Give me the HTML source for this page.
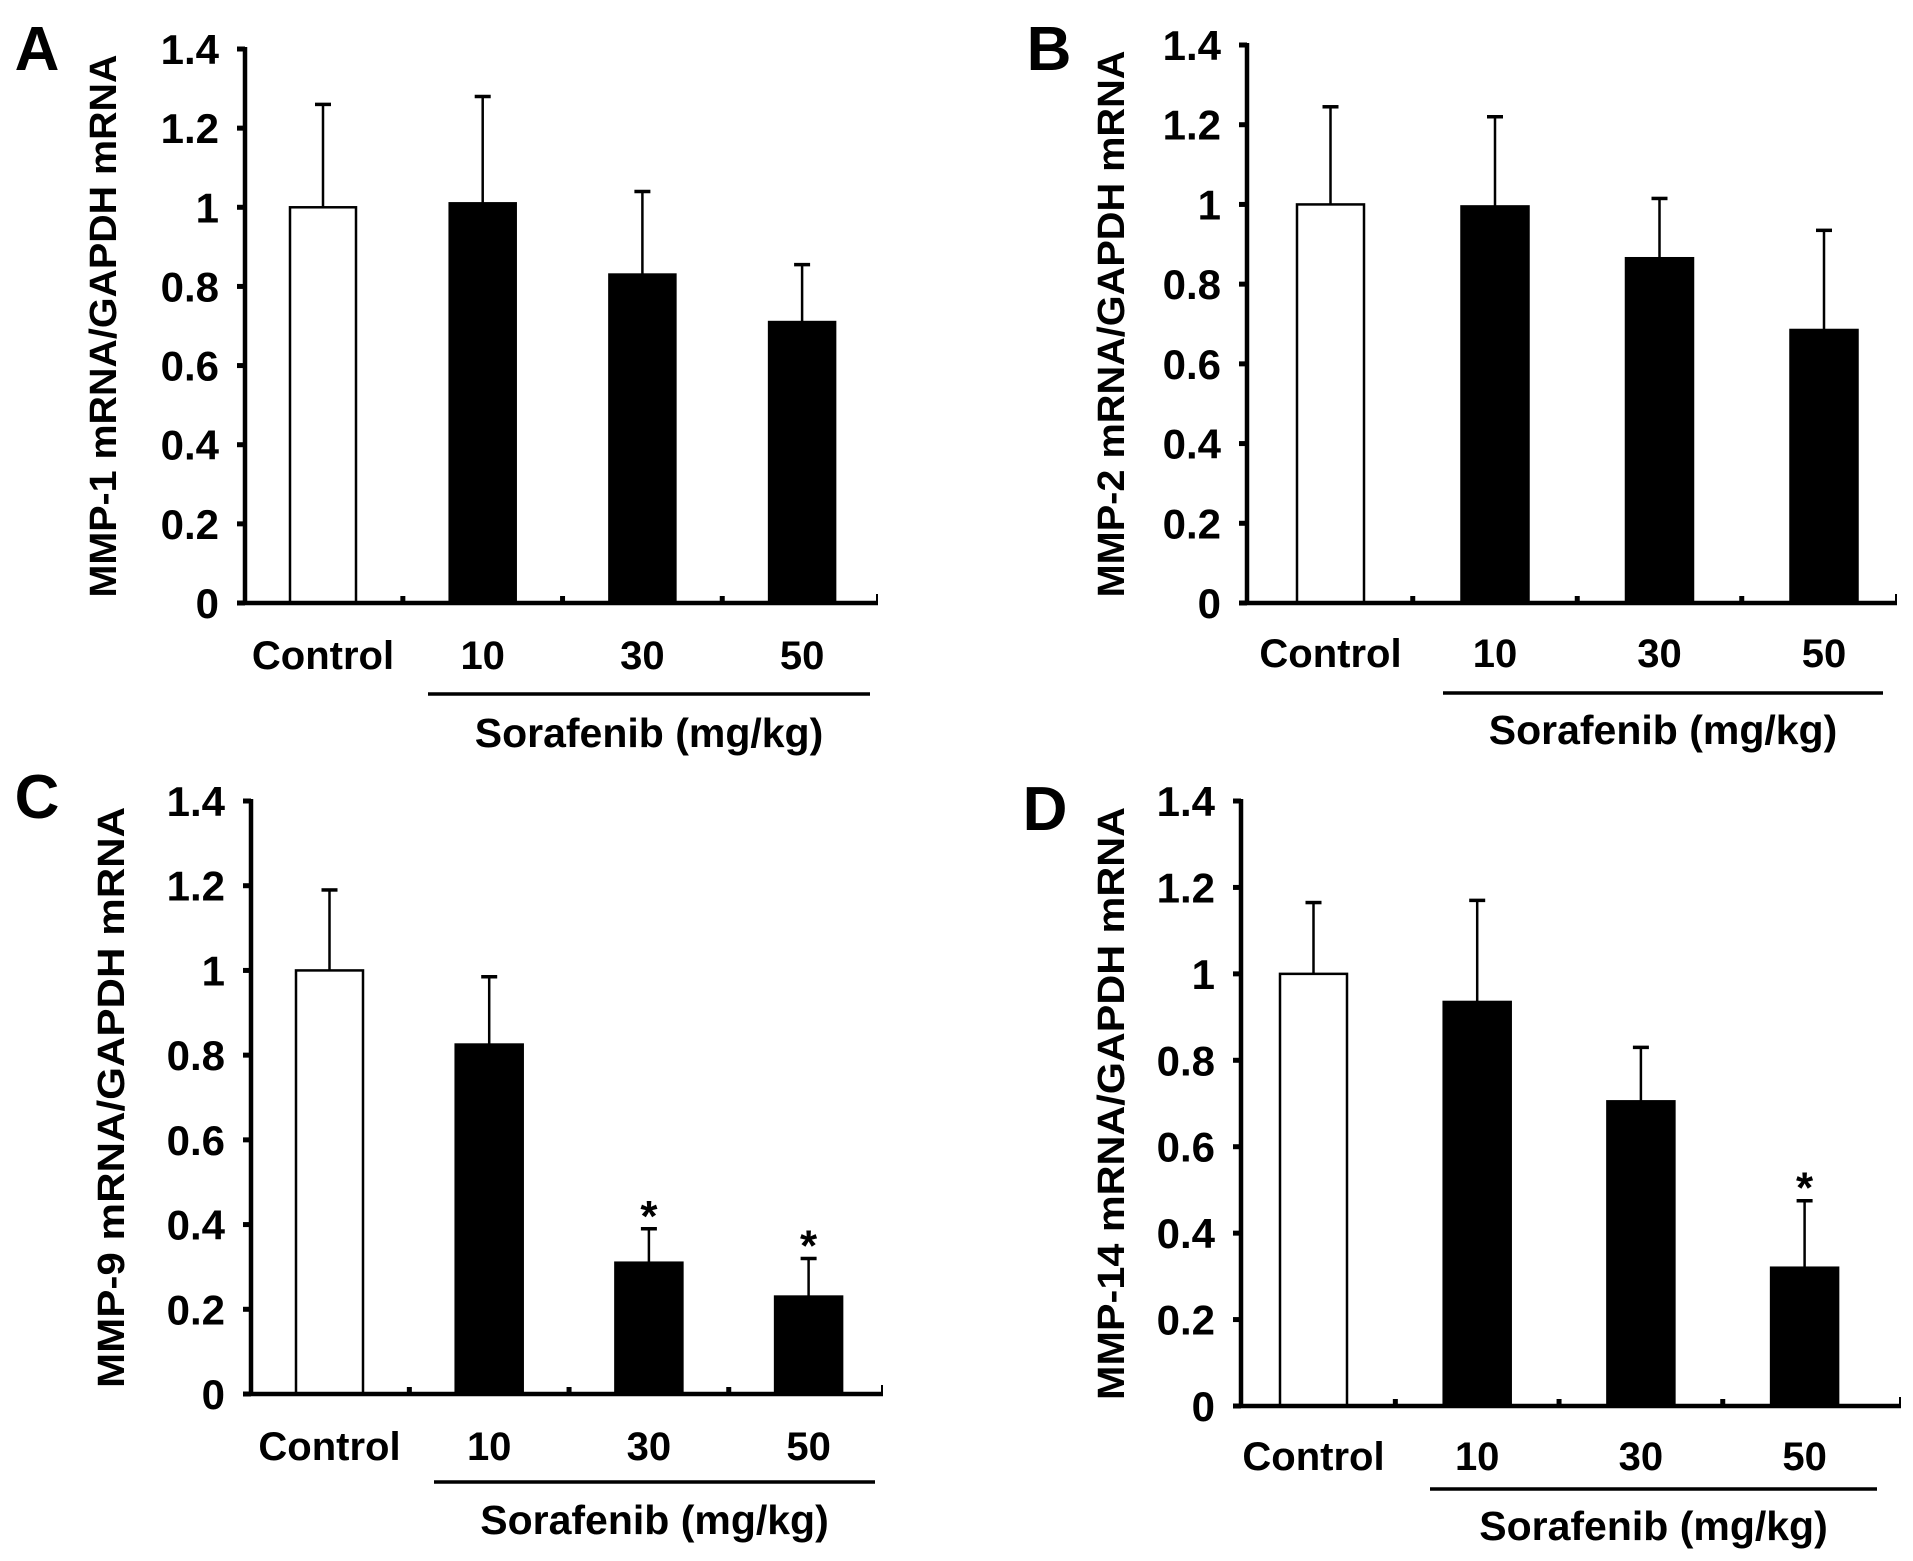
<!DOCTYPE html>
<html><head><meta charset="utf-8"><style>
html,body{margin:0;padding:0;background:#fff;}
svg{display:block;font-family:"Liberation Sans",Arial,sans-serif;font-weight:bold;}
</style></head>
<body>
<svg id="fig" width="1913" height="1561" viewBox="0 0 1913 1561"></svg>
<script>
const categories = ["Control","10","30","50"];
const tickLabels = ["0","0.2","0.4","0.6","0.8","1","1.2","1.4"];
const tickValues = [0,0.2,0.4,0.6,0.8,1.0,1.2,1.4];
const valuesA = [1.0,1.01,0.83,0.71];
const errA = [1.26,1.28,1.04,0.855];
const valuesB = [1.0,0.995,0.865,0.685];
const errB = [1.245,1.22,1.015,0.935];
const valuesC = [1.0,0.825,0.31,0.23];
const errC = [1.19,0.985,0.39,0.32];
const valuesD = [1.0,0.935,0.705,0.32];
const errD = [1.165,1.17,0.83,0.475];
const sigC = [false,false,true,true];
const sigD = [false,false,false,true];
const sigNone = [false,false,false,false];

const NS="http://www.w3.org/2000/svg";
const svg=document.getElementById('fig');
function mk(tag,attrs,parent){const e=document.createElementNS(NS,tag);for(const k in attrs)e.setAttribute(k,attrs[k]);(parent||svg).appendChild(e);return e;}

const panels=[
 {id:'a',letter:'A',title:'MMP-1 mRNA/GAPDH mRNA',ax:245,y0:603,ytop:49,xend:878,x0:290,step:159.7,bw:66,catY:669,ulX1:428,ulX2:870,ulY:694,sorY:747,titleX:104,lx:37,ly:70,vals:valuesA,errs:errA,sig:sigNone},
 {id:'b',letter:'B',title:'MMP-2 mRNA/GAPDH mRNA',ax:1247,y0:603,ytop:45,xend:1897,x0:1297,step:164.5,bw:67,catY:667,ulX1:1443,ulX2:1883,ulY:693,sorY:744,titleX:1112,lx:1049,ly:70,vals:valuesB,errs:errB,sig:sigNone},
 {id:'c',letter:'C',title:'MMP-9 mRNA/GAPDH mRNA',ax:251,y0:1394,ytop:801,xend:883,x0:296,step:159.7,bw:67,catY:1460,ulX1:434,ulX2:875,ulY:1482,sorY:1534,titleX:112,lx:37,ly:818,vals:valuesC,errs:errC,sig:sigC},
 {id:'d',letter:'D',title:'MMP-14 mRNA/GAPDH mRNA',ax:1241,y0:1406,ytop:801,xend:1901,x0:1280,step:163.7,bw:67,catY:1470,ulX1:1430,ulX2:1877,ulY:1489,sorY:1540,titleX:1112,lx:1045,ly:830,vals:valuesD,errs:errD,sig:sigD}
];

panels.forEach(p=>{
 const g=mk('g',{});
 
 
 const yS=v=>p.y0-(v/1.4)*(p.y0-p.ytop);
 const xS=i=>p.x0+i*p.step;
 const L=mk('text',{x:p.lx,y:p.ly,'font-size':62,'text-anchor':'middle'},g);L.textContent=p.letter;
 
 
 const ty=(p.y0+p.ytop)/2;
 const T=mk('text',{x:p.titleX,y:ty,'font-size':38,'text-anchor':'middle','dominant-baseline':'central',transform:`rotate(-90 ${p.titleX} ${ty})`,textLength:(p.y0-p.ytop)*0.98,lengthAdjust:'spacingAndGlyphs'},g);T.textContent=p.title;
 
 
 p.vals.forEach((v,i)=>{
  const x=xS(i), yv=yS(v), cx=x+p.bw/2, ye=yS(p.errs[i]);
  const eb=mk('line',{x1:cx,x2:cx,y1:yv,y2:ye,stroke:'#000','stroke-width':2.5},g);
  
  
  const cap=mk('line',{x1:cx-8,x2:cx+8,y1:ye,y2:ye,stroke:'#000','stroke-width':3.5},g);
  
  
  const r=mk('rect',{x:x,y:yv,width:p.bw,height:p.y0-yv,fill:i===0?'#fff':'#000',stroke:'#000','stroke-width':2.5},g);
  
  
  if(p.sig[i]){const s=mk('text',{x:cx,y:ye+2,'font-size':44,'text-anchor':'middle'},g);s.textContent='*';
   
   }
  const c=mk('text',{x:cx,y:p.catY,'font-size':40,'text-anchor':'middle'},g);c.textContent=categories[i];
  
  
  if(i>0){const mt=mk('line',{x1:x-(p.step-p.bw)/2,x2:x-(p.step-p.bw)/2,y1:p.y0,y2:p.y0-7,stroke:'#000','stroke-width':5},g);
   
   }
 });
 const ya=mk('line',{x1:p.ax,x2:p.ax,y1:p.ytop-2,y2:p.y0+2,stroke:'#000','stroke-width':4.5},g);
 
 
 const xa=mk('line',{x1:p.ax-2,x2:p.xend,y1:p.y0,y2:p.y0,stroke:'#000','stroke-width':4.5},g);
 
 
 const xe=mk('line',{x1:p.xend-1,x2:p.xend-1,y1:p.y0,y2:p.y0-9,stroke:'#000','stroke-width':2},g);
 
 
 tickValues.forEach((t,k)=>{
  const y=yS(t);
  const tk=mk('line',{x1:p.ax-8,x2:p.ax,y1:y,y2:y,stroke:'#000','stroke-width':5},g);
  
  
  const tl=mk('text',{x:p.ax-26,y:y+15,'font-size':42,'text-anchor':'end'},g);tl.textContent=tickLabels[k];
  
  
 });
 const ul=mk('line',{x1:p.ulX1,x2:p.ulX2,y1:p.ulY,y2:p.ulY,stroke:'#000','stroke-width':3.5},g);
 
 
 const so=mk('text',{x:(p.ulX1+p.ulX2)/2,y:p.sorY,'font-size':41,'text-anchor':'middle'},g);so.textContent='Sorafenib (mg/kg)';
 
 
});
</script>
</body></html>
